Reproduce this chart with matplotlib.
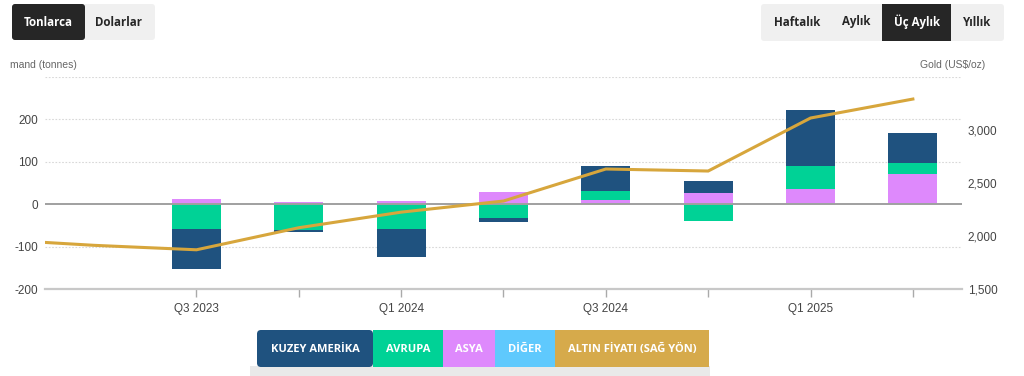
import numpy as np
import matplotlib
matplotlib.use("Agg")
import matplotlib.pyplot as plt
from matplotlib.patches import FancyBboxPatch, Rectangle

# ---------------- data ----------------
quarters = ['Q1 2023', 'Q2 2023', 'Q3 2023', 'Q4 2023', 'Q1 2024', 'Q2 2024',
            'Q3 2024', 'Q4 2024', 'Q1 2025', 'Q2 2025']
labeled_quarters = ['Q3 2023', 'Q1 2024', 'Q3 2024', 'Q1 2025']
ticked_quarters = quarters[2:]
north_america = [np.nan, np.nan, -94, -5, -66, -9, 57, 28, 134, 71]
europe = [np.nan, np.nan, -59, -60, -59, -32, 21, -40, 54, 25]
asia = [np.nan, np.nan, 12, 5, 7, 29, 7, 26, 33, 69]
other = [np.nan, np.nan, 0, 0, 0, 0, 4, 0, 2, 2]
gold_price = [1969, 1912, 1870, 2078, 2225, 2330, 2632, 2613, 3113, 3292]

series_names = ['KUZEY AMERİKA', 'AVRUPA', 'ASYA', 'DİĞER', 'ALTIN FİYATI (SAĞ YÖN)']
left_ticks = [-200, -100, 0, 100, 200]
right_ticks = [1500, 2000, 2500, 3000]

# ---------------- style ----------------
C_NA = '#1f527f'
C_EU = '#00d296'
C_AS = '#de89fc'
C_OT = '#5fc9fd'
C_GOLD = '#d7a63c'
C_LEG_GOLD = '#d6aa4b'

W, H = 1024, 376
fig = plt.figure(figsize=(W / 100, H / 100), dpi=100)
fig.patch.set_facecolor('white')

def fx(px):
    return px / W

def fy(py):
    return 1 - py / H

ax_l, ax_r_px, ax_t, ax_b = 45, 962, 77, 289
ax = fig.add_axes([fx(ax_l), fy(ax_b), fx(ax_r_px - ax_l), (ax_b - ax_t) / H])
ax.set_xlim(0.52, 9.48)
ax.set_ylim(-200, 300)

x = np.arange(len(quarters))
width = 0.48

# stacking: series closest to zero = other, asia, europe, north america
stack_order = [(other, C_OT), (asia, C_AS), (europe, C_EU), (north_america, C_NA)]
pos_base = np.zeros(len(quarters))
neg_base = np.zeros(len(quarters))
for vals, col in stack_order:
    v = np.array(vals, dtype=float)
    pos = np.where(v > 0, v, 0.0)
    neg = np.where(v < 0, v, 0.0)
    ax.bar(x, pos, width, bottom=pos_base, color=col, linewidth=0, zorder=2)
    ax.bar(x, neg, width, bottom=neg_base, color=col, linewidth=0, zorder=2)
    pos_base = pos_base + np.nan_to_num(pos)
    neg_base = neg_base + np.nan_to_num(neg)

# grid lines
for g in [300, 200, 100, -100]:
    ax.axhline(g, color='#d8d8d8', lw=0.8, ls=(0, (1.5, 1.5)), zorder=0)
ax.axhline(0, color='#a0a0a0', lw=1.4, zorder=3)
ax.axhline(-200, color='#c8c8c8', lw=1.6, zorder=3, clip_on=False)

for s in ax.spines.values():
    s.set_visible(False)

ax.set_yticks(left_ticks)
ax.set_yticklabels([str(t) for t in left_ticks])
ax.tick_params(axis='y', length=0, pad=5, labelsize=8.5, labelcolor='#444444')
for lab in ax.get_yticklabels():
    lab.set_fontfamily('Liberation Sans')

tick_pos = [quarters.index(q) for q in ticked_quarters]
ax.set_xticks(tick_pos)
ax.set_xticklabels([q if q in labeled_quarters else '' for q in ticked_quarters])
ax.tick_params(axis='x', length=6, width=1, color='#aaaaaa', pad=4,
               labelsize=8.5, labelcolor='#444444')
for lab in ax.get_xticklabels():
    lab.set_fontfamily('Liberation Sans')

# right axis (gold)
ax2 = ax.twinx()
ax2.set_ylim(1500, 3500)
ax2.plot(x, gold_price, color=C_GOLD, lw=2.2, zorder=5, solid_joinstyle='miter')
ax2.set_yticks(right_ticks)
ax2.set_yticklabels([f'{t:,}' for t in right_ticks])
ax2.tick_params(axis='y', length=0, pad=4, labelsize=8.5, labelcolor='#444444')
for lab in ax2.get_yticklabels():
    lab.set_fontfamily('Liberation Sans')
for s in ax2.spines.values():
    s.set_visible(False)
ax2.set_xlim(0.52, 9.48)

fig.text(fx(10), fy(65), 'mand (tonnes)', ha='left', va='center', fontsize=7.5,
         color='#666666', family='Liberation Sans')
fig.text(fx(985), fy(65), 'Gold (US$/oz)', ha='right', va='center', fontsize=7.5,
         color='#666666', family='Liberation Sans')

# ---------------- overlay: buttons and legend ----------------
ov = fig.add_axes([0, 0, 1, 1], zorder=10)
ov.set_xlim(0, W)
ov.set_ylim(H, 0)
ov.axis('off')
ov.patch.set_alpha(0)

def box(x0, y0, x1, y1, col, r=3):
    ov.add_patch(FancyBboxPatch((x0, y0), x1 - x0, y1 - y0,
                                boxstyle=f'round,pad=0,rounding_size={r}',
                                fc=col, ec='none', mutation_aspect=1))

def rect(x0, y0, x1, y1, col):
    ov.add_patch(Rectangle((x0, y0), x1 - x0, y1 - y0, fc=col, ec='none'))

btn_font = dict(family='Open Sans', fontweight='bold', fontsize=8.3, ha='center', va='center')

# left buttons
box(12, 4, 155, 40, '#f0f0f0')
box(12, 4, 85, 40, '#262626')
ov.text(48, 22, 'Tonlarca', color='white', **btn_font)
ov.text(119, 22, 'Dolarlar', color='#262626', **btn_font)

# right buttons
box(761, 4, 1004, 41, '#f0f0f0')
rect(882, 4, 951, 41, '#262626')
ov.text(797, 22, 'Haftalık', color='#262626', **btn_font)
ov.text(856, 22, 'Aylık', color='#262626', **btn_font)
ov.text(917, 22, 'Üç Aylık', color='white', **btn_font)
ov.text(977, 22, 'Yıllık', color='#262626', **btn_font)

# legend
rect(250, 366, 710, 376, '#e9e9e9')
leg_edges = [257, 373, 443, 495, 555, 709]
leg_cols = [C_NA, C_EU, C_AS, C_OT, C_LEG_GOLD]
box(leg_edges[0], 330, leg_edges[1], 367, C_NA, r=4)
for i in range(1, 5):
    rect(leg_edges[i], 330, leg_edges[i + 1], 367, leg_cols[i])
for i, name in enumerate(series_names):
    ov.text((leg_edges[i] + leg_edges[i + 1]) / 2, 349, name, color='white',
            family='Open Sans', fontweight='bold', fontsize=8, ha='center', va='center')

fig.savefig('out.png', dpi=100, facecolor='white')
